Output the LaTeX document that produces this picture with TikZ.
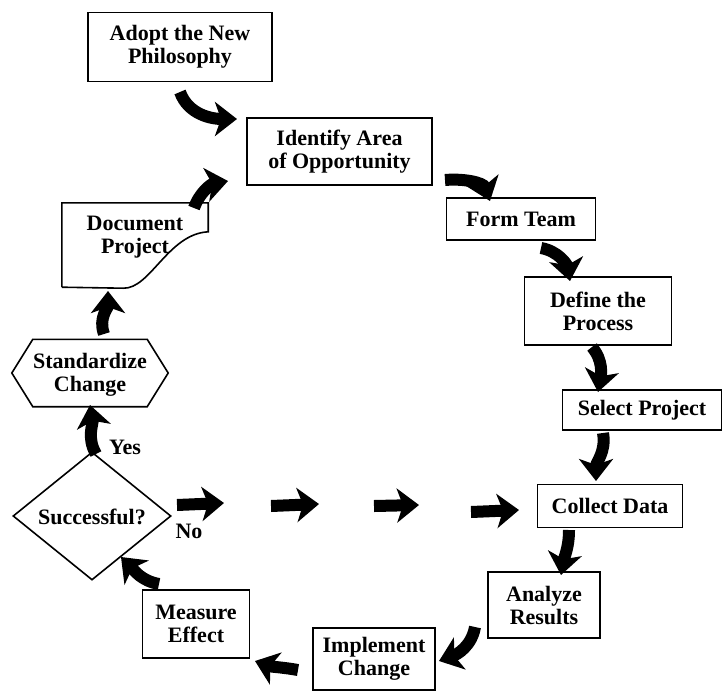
\documentclass[tikz,border=0pt]{standalone}
\usepackage{fontspec}
\setmainfont{Liberation Serif}
\usetikzlibrary{arrows.meta}
\begin{document}
\begin{tikzpicture}[x=1pt,y=-1pt,
  txt/.style={font=\bfseries\fontsize{22}{23}\selectfont,align=center,inner sep=0pt},
  box/.style={txt,draw,line width=1.6pt},
  frame/.style={line width=1.6pt,line join=miter},
  blk/.style={line width=12pt,-{Stealth[length=22pt,width=34pt,inset=6pt]}},
]
\useasboundingbox (0,0) rectangle (725,691);

% boxes
\node[box,minimum width=184pt,minimum height=69pt] (adopt) at (180,47) {Adopt the New\\Philosophy};
\node[box,minimum width=185pt,minimum height=67pt] (ident) at (339.5,151.5) {Identify Area\\of Opportunity};
\node[box,minimum width=149pt,minimum height=42pt] (form) at (521,219) {Form Team};
\node[box,minimum width=147pt,minimum height=68pt] (define) at (598,311) {Define the\\Process};
\node[box,minimum width=159pt,minimum height=40pt] (select) at (642,410) {Select Project};
\node[box,minimum width=145pt,minimum height=43pt] (collect) at (610,506) {Collect Data};
\node[box,minimum width=112pt,minimum height=66pt] (analyze) at (544,605) {Analyze\\Results};
\node[box,minimum width=122pt,minimum height=62pt] (implement) at (374,659) {Implement\\Change};
\node[box,minimum width=107pt,minimum height=68pt] (measure) at (196,624) {Measure\\Effect};

% decision diamond
\node[inner sep=0pt,minimum width=157pt,minimum height=127pt] (succ) at (92,516) {};
\draw[frame] (succ.west) -- (succ.north) -- (succ.east) -- (succ.south) -- cycle;
\node[txt] (succt) at (92,517) {Successful?};

% hexagon
\node[inner sep=0pt,minimum width=156pt,minimum height=67pt] (std) at (90,373) {};
\draw[frame] (std.west) -- ([xshift=21pt]std.north west) -- ([xshift=-21pt]std.north east)
  -- (std.east) -- ([xshift=-21pt]std.south east) -- ([xshift=21pt]std.south west) -- cycle;
\node[txt] (stdt) at (90,375) {Standardize\\Change};

% document
\node[inner sep=0pt,minimum width=146pt,minimum height=84pt] (doc) at (135,245) {};
\draw[frame] (doc.south west) -- (doc.north west) -- (doc.north east) -- ([yshift=-29pt]doc.north east)
  .. controls ([xshift=-40pt,yshift=-31pt]doc.north east) and ([xshift=-58pt,yshift=-2pt]doc.south east) .. ([xshift=-85pt,yshift=-1pt]doc.south east)
  -- (doc.south west);
\node[txt] (doct) at (135,237) {Document\\Project};

% labels
\node[txt] (yes) at (125,447) {Yes};
\node[txt] (no) at (189,531) {No};

% block arrows
\coordinate (a1s) at (180,92);   \coordinate (a1e) at (237,119);
\coordinate (a2s) at (445,180);  \coordinate (a2e) at (490,201);
\coordinate (a3s) at (541,248);  \coordinate (a3e) at (570,281);
\coordinate (a4s) at (592,347);  \coordinate (a4e) at (598,392);
\coordinate (a5s) at (603,433);  \coordinate (a5e) at (596,481);
\coordinate (a6s) at (569,530);  \coordinate (a6e) at (561,575);
\coordinate (a7s) at (475,627);  \coordinate (a7e) at (439,661);
\coordinate (a8s) at (298,670);  \coordinate (a8e) at (255,661);
\coordinate (a9s) at (159,584);  \coordinate (a9e) at (121,557);
\coordinate (a10s) at (96,454);  \coordinate (a10e) at (90,405);
\coordinate (a11s) at (104,334); \coordinate (a11e) at (108,291);
\coordinate (a12s) at (194,208); \coordinate (a12e) at (228,181);
\coordinate (h1s) at (177,505);  \coordinate (h1e) at (224,503);
\coordinate (h2s) at (271,506);  \coordinate (h2e) at (319,504);
\coordinate (h3s) at (374,506);  \coordinate (h3e) at (419,505);
\coordinate (h4s) at (471,512);  \coordinate (h4e) at (519,510);

\draw[blk] (a1s) to[out=-70,in=180] (a1e);
\draw[blk] (a2s) to[out=5,in=110] (a2e);
\draw[blk] (a3s) to[out=-10,in=100] (a3e);
\draw[blk] (a4s) to[out=-50,in=80] (a4e);
\draw[blk] (a5s) to[out=-80,in=90] (a5e);
\draw[blk] (a6s) to[out=-90,in=80] (a6e);
\draw[blk] (a7s) to[out=-100,in=20] (a7e);
\draw[blk] (a8s) to[out=170,in=-20] (a8e);
\draw[blk] (a9s) to[out=170,in=-45] (a9e);
\draw[blk] (a10s) to[out=120,in=-80] (a10e);
\draw[blk] (a11s) to[out=110,in=-90] (a11e);
\draw[blk] (a12s) to[out=70,in=190] (a12e);
\draw[blk] (h1s) -- (h1e);
\draw[blk] (h2s) -- (h2e);
\draw[blk] (h3s) -- (h3e);
\draw[blk] (h4s) -- (h4e);
\end{tikzpicture}
\end{document}
